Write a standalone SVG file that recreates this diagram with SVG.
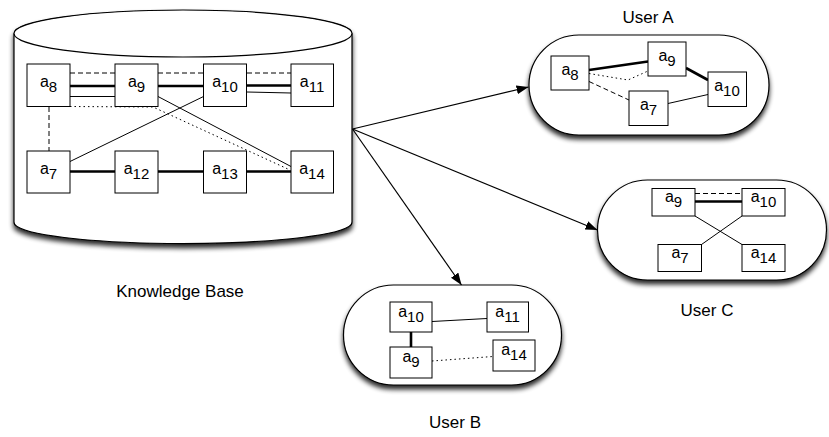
<svg xmlns="http://www.w3.org/2000/svg" width="829" height="437" viewBox="0 0 829 437">
  <defs>
    <filter id="shadow" x="-10%" y="-10%" width="120%" height="140%">
      <feGaussianBlur in="SourceAlpha" stdDeviation="2.8"/>
      <feOffset dx="0" dy="4" result="blur"/>
      <feComponentTransfer><feFuncA type="linear" slope="0.85"/></feComponentTransfer>
      <feMerge><feMergeNode/><feMergeNode in="SourceGraphic"/></feMerge>
    </filter>
    <marker id="arrow" viewBox="0 0 12 9" refX="12" refY="4.5" markerWidth="12" markerHeight="9" markerUnits="userSpaceOnUse" orient="auto">
      <path d="M0,0 L12,4.5 L0,9 Z" fill="#000"/>
    </marker>
    <style>
      .shell { fill: #fff; stroke: #000; stroke-width: 1.2; }
      .node rect { fill: #fff; stroke: #000; stroke-width: 1; }
      .node text, .label { font-family: "Liberation Sans", Arial, sans-serif; fill: #000; }
      .node text { font-size: 16px; text-anchor: middle; }
      .node tspan { font-size: 15px; }
      .label { font-size: 17px; text-anchor: middle; }
      .e { fill: none; stroke: #000; stroke-width: 1; }
      .thick { stroke-width: 2.6; }
      .dash { stroke-dasharray: 5 3; }
      .dot { stroke-dasharray: 1.5 3; }
      .flow { fill: none; stroke: #000; stroke-width: 1.2; marker-end: url(#arrow); }
    </style>
  </defs>

  <rect width="829" height="437" fill="#fff"/>

  <!-- containers -->
  <g id="knowledge-base" filter="url(#shadow)">
    <path class="shell" d="M14,34 L14,222 Q14,225 17,226.5 A169,21 0 0 0 349,226.5 Q352,225 352,222 L352,34 A169,23.5 0 0 0 14,34 Z"/>
    <ellipse class="shell" cx="183" cy="33.5" rx="169" ry="23.5"/>
  </g>
  <rect id="user-a-box" class="shell" x="529" y="35" width="240" height="100" rx="50" filter="url(#shadow)"/>
  <rect id="user-c-box" class="shell" x="597.5" y="180" width="229" height="100" rx="50" filter="url(#shadow)"/>
  <rect id="user-b-box" class="shell" x="343.5" y="285" width="218" height="100" rx="50" filter="url(#shadow)"/>

  <!-- captions -->
  <text class="label" x="180" y="297">Knowledge Base</text>
  <text class="label" x="648" y="23">User A</text>
  <text class="label" x="707" y="316">User C</text>
  <text class="label" x="455" y="428">User B</text>

  <!-- connectors -->
  <g id="connectors">
    <!-- knowledge base -->
    <path class="e dash" d="M70,73 H115 M158,73 H203 M247,73 H291"/>
    <path class="e thick" d="M70,86 H115 M158,86 H203 M247,85.5 H291"/>
    <path class="e" d="M70,96.5 H115 M247,92 L291,93"/>
    <path class="e dot" d="M70,106.5 L153,107 L290,170"/>
    <path class="e" d="M158,96.5 L291,166.5"/>
    <path class="e" d="M203.5,96.5 L70,161.5"/>
    <path class="e dash" d="M49,107 V151"/>
    <path class="e thick" d="M70,171.5 H115 M158,171.5 H203 M247,171.5 H291"/>

    <!-- user A -->
    <path class="e thick" d="M589,70 L648,61.5"/>
    <path class="e dot" d="M589,73.5 L628,80 L648,71"/>
    <path class="e dash" d="M589,81.5 L629,100"/>
    <path class="e thick" d="M686,68 L708,80"/>
    <path class="e" d="M668,103.5 L708,94.5"/>

    <!-- user C -->
    <path class="e dash" d="M695,193.5 H742"/>
    <path class="e thick" d="M695,201.5 H742"/>
    <path class="e" d="M695,216 L742,244.5"/>
    <path class="e" d="M742,216 L701.5,244.5"/>

    <!-- user B -->
    <path class="e" d="M432,321.5 L487,318.5"/>
    <path class="e thick" d="M411,332 V347"/>
    <path class="e dot" d="M432,361 L493,356.5"/>

    <!-- knowledge base to users -->
    <path class="flow" d="M352.5,129 L528.5,87"/>
    <path class="flow" d="M352.5,129 L597.5,230"/>
    <path class="flow" d="M352.5,129 L461.5,285"/>
  </g>

  <!-- knowledge base nodes -->
  <g id="kb-a8" class="node"><rect x="27" y="64" width="43" height="42.5"/><text x="48.5" y="87">a<tspan dy="5">8</tspan></text></g>
  <g id="kb-a9" class="node"><rect x="115" y="64" width="43" height="42.5"/><text x="136.5" y="87">a<tspan dy="5">9</tspan></text></g>
  <g id="kb-a10" class="node"><rect x="203.5" y="64" width="43" height="42.5"/><text x="225" y="87">a<tspan dy="5">10</tspan></text></g>
  <g id="kb-a11" class="node"><rect x="291" y="64" width="42.5" height="42.5"/><text x="312" y="87">a<tspan dy="5">11</tspan></text></g>
  <g id="kb-a7" class="node"><rect x="27" y="151" width="43" height="42"/><text x="48.5" y="173.5">a<tspan dy="5">7</tspan></text></g>
  <g id="kb-a12" class="node"><rect x="115" y="151" width="43" height="42"/><text x="136.5" y="173.5">a<tspan dy="5">12</tspan></text></g>
  <g id="kb-a13" class="node"><rect x="203.5" y="151" width="43" height="42"/><text x="225" y="173.5">a<tspan dy="5">13</tspan></text></g>
  <g id="kb-a14" class="node"><rect x="291" y="151" width="42.5" height="42"/><text x="312" y="173.5">a<tspan dy="5">14</tspan></text></g>

  <!-- user A nodes -->
  <g id="ua-a8" class="node"><rect x="551" y="56" width="38" height="34"/><text x="570" y="75">a<tspan dy="5">8</tspan></text></g>
  <g id="ua-a9" class="node"><rect x="648" y="42" width="38" height="34"/><text x="667" y="61">a<tspan dy="5">9</tspan></text></g>
  <g id="ua-a10" class="node"><rect x="708" y="72" width="38.5" height="34.5"/><text x="727" y="91">a<tspan dy="5">10</tspan></text></g>
  <g id="ua-a7" class="node"><rect x="629" y="91" width="39" height="34.5"/><text x="648.5" y="110">a<tspan dy="5">7</tspan></text></g>

  <!-- user C nodes -->
  <g id="uc-a9" class="node"><rect x="652" y="188.5" width="43" height="27.5"/><text x="673.5" y="202">a<tspan dy="5">9</tspan></text></g>
  <g id="uc-a10" class="node"><rect x="742" y="188.5" width="43" height="27.5"/><text x="763.5" y="202">a<tspan dy="5">10</tspan></text></g>
  <g id="uc-a7" class="node"><rect x="658" y="244.5" width="43.5" height="27"/><text x="680" y="258">a<tspan dy="5">7</tspan></text></g>
  <g id="uc-a14" class="node"><rect x="742" y="244.5" width="43" height="27"/><text x="763.5" y="258">a<tspan dy="5">14</tspan></text></g>

  <!-- user B nodes -->
  <g id="ub-a10" class="node"><rect x="390" y="302" width="42" height="30"/><text x="411" y="317">a<tspan dy="5">10</tspan></text></g>
  <g id="ub-a11" class="node"><rect x="487" y="302" width="41.5" height="30"/><text x="507.5" y="317">a<tspan dy="5">11</tspan></text></g>
  <g id="ub-a9" class="node"><rect x="390" y="347" width="42" height="31"/><text x="411" y="362">a<tspan dy="5">9</tspan></text></g>
  <g id="ub-a14" class="node"><rect x="493" y="340" width="42" height="31"/><text x="514" y="355">a<tspan dy="5">14</tspan></text></g>
</svg>
